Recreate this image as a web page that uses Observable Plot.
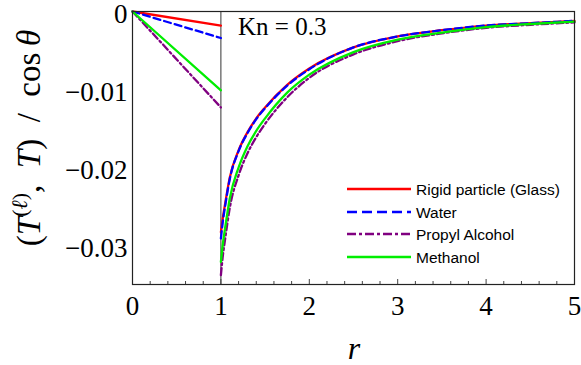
<!DOCTYPE html>
<html><head><meta charset="utf-8">
<script src="https://cdn.jsdelivr.net/npm/d3@7"></script>
<script src="https://cdn.jsdelivr.net/npm/@observablehq/plot@0.6"></script>
<style>body{margin:0;background:#fff}</style>
</head><body><div id="chart"></div>
<script>
// Data
const seriesNames = ["Rigid particle (Glass)", "Water", "Propyl Alcohol", "Methanol"];
const seriesColors = ["#ff0000", "#0000ff", "#800080", "#00ee00"];
const seriesDash = [null, "7,4", "7,3,2,3", null];
const rInside = [0, 1];
const glassIn = [0, -0.0018];
const waterIn = [0, -0.0034];
const propylIn = [0, -0.0123];
const methanolIn = [0, -0.0101];
const rOutside = [1, 1.02, 1.05, 1.1, 1.2, 1.3, 1.4, 1.5, 1.75, 2, 2.5, 3, 3.5, 4, 4.5, 5];
const glassOut = [-0.0283, -0.0266, -0.0245, -0.0213, -0.0178, -0.0155, -0.0137, -0.0123, -0.0094, -0.0073, -0.0046, -0.0032, -0.0024, -0.0018, -0.0015, -0.0012];
const waterOut = [-0.0291, -0.0271, -0.0248, -0.0215, -0.0179, -0.0156, -0.0138, -0.0124, -0.0095, -0.0074, -0.0046, -0.0032, -0.0024, -0.0018, -0.0015, -0.0012];
const propylOut = [-0.0338, -0.0315, -0.0290, -0.0252, -0.0210, -0.0182, -0.0161, -0.0144, -0.0110, -0.0085, -0.0055, -0.0038, -0.0028, -0.0021, -0.0017, -0.0014];
const methanolOut = [-0.0321, -0.0300, -0.0276, -0.0240, -0.0200, -0.0173, -0.0153, -0.0137, -0.0104, -0.0081, -0.0052, -0.0036, -0.0027, -0.0020, -0.0016, -0.0013];
const xTicks = [0, 1, 2, 3, 4, 5];
const xMinorTicks = [0.2,0.4,0.6,0.8,1.2,1.4,1.6,1.8,2.2,2.4,2.6,2.8,3.2,3.4,3.6,3.8,4.2,4.4,4.6,4.8];
const yTicks = [0, -0.01, -0.02, -0.03];
const yTickLabels = ["0", "\u22120.01", "\u22120.02", "\u22120.03"];

const insides = [glassIn, waterIn, propylIn, methanolIn];
const outsides = [glassOut, waterOut, propylOut, methanolOut];
const drawOrder = [0, 1, 2, 3];
const SERIF = "Liberation Serif, serif";

const lineMarks = [];
for (const i of drawOrder) {
  const inRows = rInside.map((r, k) => ({r, v: insides[i][k]}));
  const outRows = rOutside.map((r, k) => ({r, v: outsides[i][k]}));
  const opts = {x: "r", y: "v", stroke: seriesColors[i], strokeWidth: 2.3, strokeDasharray: seriesDash[i] || undefined};
  lineMarks.push(Plot.line(inRows, opts));
  lineMarks.push(Plot.line(outRows, {...opts, curve: "monotone-x"}));
}

const chart = Plot.plot({
  width: 581, height: 365,
  marginLeft: 132, marginRight: 7, marginTop: 11, marginBottom: 81,
  style: {background: "#fff", color: "#000"},
  x: {domain: [0, 5]},
  y: {domain: [-0.035, 0]},
  marks: [
    Plot.ruleX([1], {stroke: "#333", strokeWidth: 1}),
    ...lineMarks,
    Plot.axisX(xMinorTicks, {tickSize: -3, text: null, label: null, stroke: "#444"}),
    Plot.axisX(xTicks, {tickSize: -5, tickPadding: 16, label: null, tickFormat: d => String(d), fontSize: 27, fontFamily: SERIF, stroke: "#444"}),
    Plot.axisY(yTicks, {tickSize: 0, tickPadding: 5, label: null, tickFormat: d => yTickLabels[yTicks.indexOf(d)], fontSize: 27, fontFamily: SERIF, dy: 3}),
    Plot.frame({stroke: "#222", strokeWidth: 1.2})
  ]
});
document.getElementById("chart").appendChild(chart);

const svg = d3.select(chart);
// Y axis label
const yl = svg.append("text")
  .attr("transform", "translate(40,138) rotate(-90)")
  .attr("text-anchor", "middle")
  .attr("font-family", SERIF)
  .attr("font-size", 33)
  .attr("fill", "#000");
yl.append("tspan").text("(");
yl.append("tspan").attr("font-style", "italic").text("T");
yl.append("tspan").attr("font-size", 22).attr("dy", -13).text("(");
yl.append("tspan").attr("font-size", 22).attr("font-style", "italic").text("\u2113");
yl.append("tspan").attr("font-size", 22).text(")");
yl.append("tspan").attr("dy", 13).text(",\u2002");
yl.append("tspan").attr("font-style", "italic").text("T");
yl.append("tspan").text(")\u2002/\u2002cos\u2009");
yl.append("tspan").attr("font-style", "italic").text("\u03b8");

// X axis label
svg.append("text")
  .attr("x", 354).attr("y", 359)
  .attr("text-anchor", "middle")
  .attr("font-family", SERIF)
  .attr("font-style", "italic")
  .attr("font-size", 32)
  .attr("fill", "#000")
  .text("r");

// Kn annotation
svg.append("text")
  .attr("x", 238).attr("y", 35)
  .attr("text-anchor", "start")
  .attr("font-family", SERIF)
  .attr("font-size", 25)
  .attr("fill", "#000")
  .text("Kn = 0.3");

// Legend
const legendY = [189, 212, 234, 257];
seriesNames.forEach((name, i) => {
  svg.append("line")
    .attr("x1", 347).attr("x2", 411).attr("y1", legendY[i]).attr("y2", legendY[i])
    .attr("stroke", seriesColors[i]).attr("stroke-width", 2.4)
    .attr("stroke-dasharray", seriesDash[i] ? (i === 1 ? "10,5" : "9,3,3,3") : null);
  svg.append("text")
    .attr("x", 416).attr("y", legendY[i]).attr("dy", "0.36em")
    .attr("text-anchor", "start")
    .attr("font-family", "Liberation Sans, Arial, sans-serif")
    .attr("font-size", 15.5)
    .attr("fill", "#000")
    .text(name);
});
</script></body></html>
